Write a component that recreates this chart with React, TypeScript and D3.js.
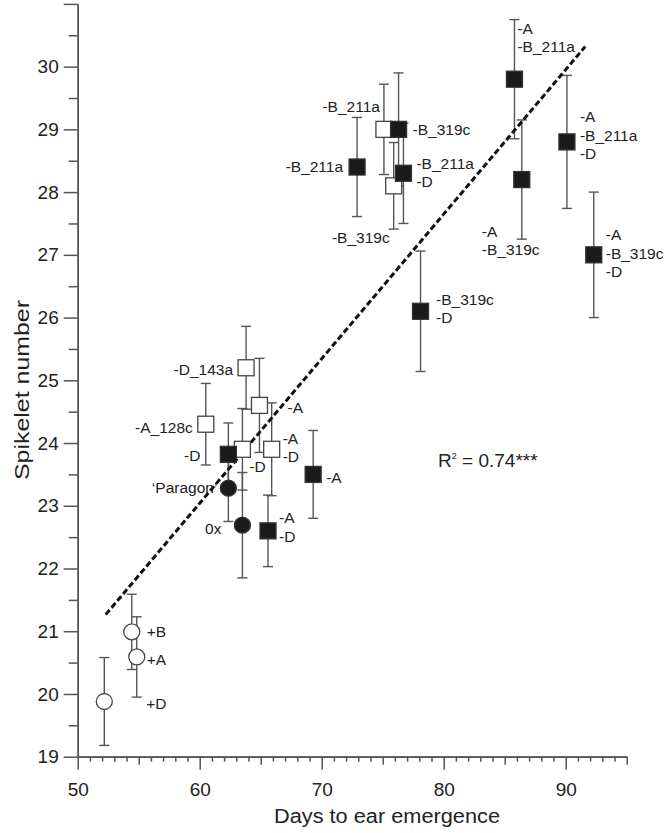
import React, { useEffect, useRef } from "react";
import * as d3 from "d3";

// days to ear emergence, spikelet number, error (+/-), marker type
const days = [85.8, 75.1, 76.3, 72.9, 76.7, 75.9, 86.4, 90.1, 92.3, 78.1, 63.8, 64.9, 60.5, 62.35, 63.5, 65.9, 69.3, 62.35, 63.5, 65.6, 54.43, 54.84, 52.18];
const spikelets = [29.8, 29.0, 29.0, 28.4, 28.3, 28.1, 28.2, 28.8, 27.0, 26.1, 25.2, 24.6, 24.3, 23.82, 23.9, 23.9, 23.5, 23.28, 22.69, 22.6, 20.99, 20.59, 19.88];
const errors = [0.95, 0.72, 0.9, 0.79, 0.8, 0.69, 0.95, 1.06, 1.0, 0.96, 0.66, 0.75, 0.65, 0.5, 0.65, 0.74, 0.7, 0.53, 0.84, 0.57, 0.6, 0.64, 0.7];
const markers = ["fs", "os", "fs", "fs", "fs", "os", "fs", "fs", "fs", "fs", "os", "os", "os", "fs", "os", "os", "fs", "fc", "fc", "fs", "oc", "oc", "oc"];
const pointLabels = [
  ["-A", "-B_211a"],
  ["-B_211a"],
  ["-B_319c"],
  ["-B_211a"],
  ["-B_211a", "-D"],
  ["-B_319c"],
  ["-A", "-B_319c"],
  ["-A", "-B_211a", "-D"],
  ["-A", "-B_319c", "-D"],
  ["-B_319c", "-D"],
  ["-D_143a"],
  ["-A"],
  ["-A_128c"],
  ["-D"],
  ["-D"],
  ["-A", "-D"],
  ["-A"],
  ["\u2018Paragon\u2019"],
  ["0x"],
  ["-A", "-D"],
  ["+B"],
  ["+A"],
  ["+D"],
];
// label placement relative to the marker: dx, dy (first line), anchor
const labelLayout: [number, number, string][] = [
  [3, -51, "start"],
  [-4, -23, "end"],
  [14, 0, "start"],
  [-14, 0, "end"],
  [13, -10, "start"],
  [-4, 52, "end"],
  [-40, 52, "start"],
  [13, -25, "start"],
  [12, -20, "start"],
  [15.5, -12, "start"],
  [-13, 2, "end"],
  [28, 2, "start"],
  [-13, 3, "end"],
  [-28, 1, "end"],
  [7, 17, "start"],
  [11, -11, "start"],
  [13, 3, "start"],
  [-11, -1, "end"],
  [-21, 3, "end"],
  [11, -13, "start"],
  [15, 0, "start"],
  [10, 3, "start"],
  [42, 2, "start"],
];

// regression line
const fitRange = [52.3, 91.6];
const fitSlope = 0.2304;
const fitIntercept = 9.216;

const xMajor = [50, 60, 70, 80, 90];
const yMajor = [19, 20, 21, 22, 23, 24, 25, 26, 27, 28, 29, 30, 31];

const FONT = "'Liberation Sans', Arial, sans-serif";
const AXIS = "#555";

const ScatterChart = ({ width, height }: { width: number; height: number }) => {
  const svgRef = useRef<SVGSVGElement>(null);

  useEffect(() => {
    const svg = d3.select(svgRef.current);
    svg.selectAll("*").remove();

    const xScale = d3.scaleLinear().domain([50, 95]).range([77.7, 626.7]);
    const yScale = d3.scaleLinear().domain([19, 31]).range([756.7, 3.9]);

    // y axis: minor, major
    const yMinor = d3.range(19.5, 31, 1);
    const gyMinor = svg.append("g").attr("transform", `translate(${xScale(50)},0)`)
      .call(d3.axisLeft(yScale).tickValues(yMinor).tickSize(9).tickSizeOuter(0).tickFormat(() => ""));
    const gy = svg.append("g").attr("transform", `translate(${xScale(50)},0)`)
      .call(d3.axisLeft(yScale).tickValues(yMajor).tickSize(14).tickSizeOuter(0).tickPadding(5)
        .tickFormat((d) => (d === 31 ? "" : String(d))));

    // x axis: minor, mid, major
    const xMinor = d3.range(51, 96, 1).filter((d) => d % 5 !== 0);
    const xMid = [55, 65, 75, 85, 95];
    const gxMinor = svg.append("g").attr("transform", `translate(0,${yScale(19)})`)
      .call(d3.axisBottom(xScale).tickValues(xMinor).tickSize(5).tickSizeOuter(0).tickFormat(() => ""));
    const gxMid = svg.append("g").attr("transform", `translate(0,${yScale(19)})`)
      .call(d3.axisBottom(xScale).tickValues(xMid).tickSize(8).tickSizeOuter(0).tickFormat(() => ""));
    const gx = svg.append("g").attr("transform", `translate(0,${yScale(19)})`)
      .call(d3.axisBottom(xScale).tickValues(xMajor).tickSize(13).tickSizeOuter(0).tickPadding(13));

    [gyMinor, gy, gxMinor, gxMid, gx].forEach((g) => {
      g.selectAll("path").attr("stroke", AXIS).attr("stroke-width", 1.5);
      g.selectAll("line").attr("stroke", AXIS).attr("stroke-width", 1.5);
      g.selectAll("text").attr("fill", "#222").style("font-family", FONT).style("font-size", "19px");
    });

    // axis titles
    svg.append("text")
      .attr("x", 387).attr("y", 823)
      .attr("text-anchor", "middle")
      .attr("textLength", 226).attr("lengthAdjust", "spacingAndGlyphs")
      .style("font-family", FONT).style("font-size", "20px").attr("fill", "#222")
      .text("Days to ear emergence");
    svg.append("text")
      .attr("transform", "rotate(-90)")
      .attr("x", -390).attr("y", 29)
      .attr("text-anchor", "middle")
      .attr("textLength", 180).attr("lengthAdjust", "spacingAndGlyphs")
      .style("font-family", FONT).style("font-size", "20px").attr("fill", "#222")
      .text("Spikelet number");

    const idx = d3.range(days.length);

    // error bars
    const bars = svg.append("g").attr("stroke", AXIS).attr("stroke-width", 1.4);
    idx.forEach((i) => {
      const cx = xScale(days[i]);
      const y1 = yScale(spikelets[i] + errors[i]);
      const y2 = yScale(spikelets[i] - errors[i]);
      bars.append("line").attr("x1", cx).attr("x2", cx).attr("y1", y1).attr("y2", y2);
      bars.append("line").attr("x1", cx - 5).attr("x2", cx + 5).attr("y1", y1).attr("y2", y1);
      bars.append("line").attr("x1", cx - 5).attr("x2", cx + 5).attr("y1", y2).attr("y2", y2);
    });

    // regression line
    const line = d3.line<number>().x((d) => xScale(d)).y((d) => yScale(fitIntercept + fitSlope * d));
    svg.append("path")
      .attr("d", line(fitRange))
      .attr("fill", "none")
      .attr("stroke", "#111")
      .attr("stroke-width", 3)
      .attr("stroke-dasharray", "6,3");

    // markers: open first, then filled
    const order = [...idx].sort((a, b) => (markers[a][0] === "o" ? 0 : 1) - (markers[b][0] === "o" ? 0 : 1));
    const pts = svg.append("g");
    order.forEach((i) => {
      const cx = xScale(days[i]);
      const cy = yScale(spikelets[i]);
      const m = markers[i];
      const filled = m[0] === "f";
      const fill = filled ? "#1a1a1a" : "#fff";
      const stroke = filled ? "#333" : "#444";
      if (m[1] === "s") {
        pts.append("rect")
          .attr("x", cx - 8).attr("y", cy - 8).attr("width", 16).attr("height", 16)
          .attr("fill", fill).attr("stroke", stroke).attr("stroke-width", 1.3);
      } else {
        pts.append("circle")
          .attr("cx", cx).attr("cy", cy).attr("r", 8)
          .attr("fill", fill).attr("stroke", stroke).attr("stroke-width", 1.3);
      }
    });

    // point labels
    const labels = svg.append("g").style("font-family", FONT).style("font-size", "15.5px").attr("fill", "#222");
    idx.forEach((i) => {
      const [dx, dy, anchor] = labelLayout[i];
      const cx = xScale(days[i]);
      const cy = yScale(spikelets[i]);
      pointLabels[i].forEach((t, k) => {
        labels.append("text")
          .attr("x", cx + dx)
          .attr("y", cy + dy + k * 18.5)
          .attr("dy", "0.35em")
          .attr("text-anchor", anchor)
          .text(t);
      });
    });

    // R squared
    const r2 = svg.append("text")
      .attr("x", 438).attr("y", 467)
      .style("font-family", FONT).style("font-size", "19px").attr("fill", "#222");
    r2.append("tspan").text("R");
    r2.append("tspan").attr("dy", -8).style("font-size", "9px").text("2");
    r2.append("tspan").attr("dy", 8).text(" = 0.74***");
  }, [width, height]);

  return <svg ref={svgRef} width={width} height={height} style={{ display: "block" }} />;
};

export default function App() {
  return (
    <div style={{ position: "absolute", left: 0, top: 0, background: "#fff" }}>
      <ScatterChart width={672} height={833} />
    </div>
  );
}
